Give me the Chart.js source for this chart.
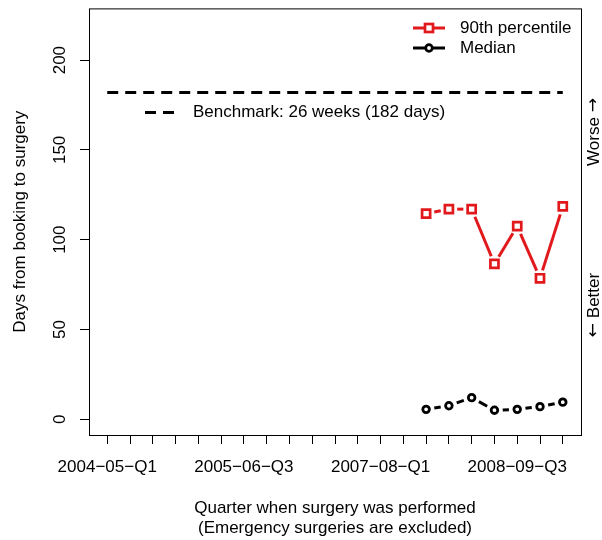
<!DOCTYPE html>
<html>
<head>
<meta charset="utf-8">
<script src="https://cdn.jsdelivr.net/npm/chart.js@4"></script>
<style>
html, body { margin: 0; padding: 0; background: #fff; }
canvas { display: block; }
</style>
</head>
<body>
<canvas id="chart" width="602" height="540"></canvas>
<script>
// ---- data ----
const QUARTERS = [
  '2004−05−Q1', '2004−05−Q2', '2004−05−Q3', '2004−05−Q4',
  '2005−06−Q1', '2005−06−Q2', '2005−06−Q3', '2005−06−Q4',
  '2006−07−Q1', '2006−07−Q2', '2006−07−Q3', '2006−07−Q4',
  '2007−08−Q1', '2007−08−Q2', '2007−08−Q3', '2007−08−Q4',
  '2008−09−Q1', '2008−09−Q2', '2008−09−Q3', '2008−09−Q4',
  '2009−10−Q1'
];
const REPORTED = ['2007−08−Q3', '2007−08−Q4', '2008−09−Q1', '2008−09−Q2', '2008−09−Q3', '2008−09−Q4', '2009−10−Q1'];
const P90 = [114.5, 117, 117, 86.5, 107.5, 78.5, 118.5];
const MEDIAN = [5.5, 7.5, 12, 5, 5.5, 7, 9.5];
const BENCHMARK_DAYS = 182;
const Y_TICKS = [0, 50, 100, 150, 200];
const LABEL_EVERY = 6;

const FONT = "'Liberation Sans', Arimo, Arial, sans-serif";
const ARROW_FONT = "'DejaVu Sans', sans-serif";
const RED = '#e2191c';

const toPoints = vals => REPORTED.map((q, i) => ({ x: QUARTERS.indexOf(q), y: vals[i] }));

// R type="b": line segments stop short of each marker
const gapLines = {
  id: 'gapLines',
  beforeDatasetsDraw(chart) {
    const ctx = chart.ctx;
    chart.data.datasets.forEach((ds, i) => {
      if (!ds.gap) return;
      const pts = chart.getDatasetMeta(i).data;
      ctx.save();
      ctx.strokeStyle = ds.borderColor;
      ctx.lineWidth = ds.segWidth;
      for (let k = 1; k < pts.length; k++) {
        const a = pts[k - 1], b = pts[k];
        const dx = b.x - a.x, dy = b.y - a.y, len = Math.hypot(dx, dy);
        if (len <= 2 * ds.gap) continue;
        const ux = dx / len, uy = dy / len;
        ctx.beginPath();
        ctx.moveTo(a.x + ux * ds.gap, a.y + uy * ds.gap);
        ctx.lineTo(b.x - ux * ds.gap, b.y - uy * ds.gap);
        ctx.stroke();
      }
      ctx.restore();
    });
  }
};

// rotated note made of word + arrow, centred at (x, y)
function sideNote(ctx, parts, x, y) {
  const fonts = parts.map(p => (p === '→' || p === '←' ? '17px ' + ARROW_FONT : '17px ' + FONT));
  const widths = parts.map((p, i) => { ctx.font = fonts[i]; return ctx.measureText(p).width; });
  const total = widths.reduce((s, w) => s + w, 0);
  ctx.save();
  ctx.translate(x, y);
  ctx.rotate(-Math.PI / 2);
  ctx.textAlign = 'left';
  let cx = -total / 2;
  parts.forEach((p, i) => {
    ctx.font = fonts[i];
    ctx.fillText(p, cx, 0);
    cx += widths[i];
  });
  ctx.restore();
}

// box, legend and side notes
const extras = {
  id: 'extras',
  afterDraw(chart) {
    const ctx = chart.ctx, a = chart.chartArea;
    ctx.save();
    ctx.strokeStyle = '#000';
    ctx.lineWidth = 1;
    ctx.strokeRect(a.left + 0.5, a.top + 0.5, a.right - a.left, a.bottom - a.top);

    ctx.font = '17px ' + FONT;
    ctx.fillStyle = '#000';
    ctx.textBaseline = 'middle';
    ctx.textAlign = 'left';

    // 90th percentile key
    ctx.strokeStyle = RED; ctx.lineWidth = 3;
    ctx.beginPath(); ctx.moveTo(413, 28); ctx.lineTo(445, 28); ctx.stroke();
    ctx.fillStyle = '#fff'; ctx.lineWidth = 2.7;
    ctx.fillRect(425, 24, 8, 8); ctx.strokeRect(425, 24, 8, 8);
    ctx.fillStyle = '#000';
    ctx.fillText('90th percentile', 460, 28);

    // median key
    ctx.strokeStyle = '#000'; ctx.lineWidth = 3;
    ctx.beginPath(); ctx.moveTo(413, 48); ctx.lineTo(445, 48); ctx.stroke();
    ctx.fillStyle = '#fff'; ctx.lineWidth = 2.8;
    ctx.beginPath(); ctx.arc(429, 48, 3.3, 0, Math.PI * 2); ctx.fill(); ctx.stroke();
    ctx.fillStyle = '#000';
    ctx.fillText('Median', 460, 48);

    // benchmark key
    ctx.lineWidth = 3; ctx.setLineDash([11, 7]);
    ctx.beginPath(); ctx.moveTo(145, 112.5); ctx.lineTo(180, 112.5); ctx.stroke();
    ctx.setLineDash([]);
    ctx.fillText('Benchmark: 26 weeks (182 days)', 193, 112);

    // direction notes on the right
    sideNote(ctx, ['Worse ', '→'], 594, 132);
    sideNote(ctx, ['←', ' Better'], 594, 305);
    ctx.restore();
  }
};

new Chart(document.getElementById('chart'), {
  type: 'line',
  data: {
    datasets: [
      {
        label: 'Benchmark',
        data: [{ x: 0, y: BENCHMARK_DAYS }, { x: QUARTERS.length - 1, y: BENCHMARK_DAYS }],
        borderColor: '#000', borderWidth: 3, borderDash: [11, 7], pointRadius: 0
      },
      {
        label: '90th percentile',
        data: toPoints(P90),
        showLine: false, gap: 8.3, segWidth: 3, borderColor: RED,
        pointStyle: 'rect', pointRadius: 5.7, pointBorderWidth: 2.7,
        pointBorderColor: RED, pointBackgroundColor: '#fff'
      },
      {
        label: 'Median',
        data: toPoints(MEDIAN),
        showLine: false, gap: 8.3, segWidth: 3, borderColor: '#000',
        pointStyle: 'circle', pointRadius: 3.3, pointBorderWidth: 2.8,
        pointBorderColor: '#000', pointBackgroundColor: '#fff'
      }
    ]
  },
  options: {
    responsive: false, animation: false, devicePixelRatio: 1,
    layout: { padding: { top: 6, right: 21, bottom: 0, left: 0 } },
    plugins: { legend: { display: false }, tooltip: { enabled: false } },
    scales: {
      x: {
        type: 'linear', min: -0.8, max: 20.8,
        afterBuildTicks: s => { s.ticks = QUARTERS.map((_, i) => ({ value: i })); },
        afterFit: s => { s.height = 105; s.paddingLeft = 0; s.paddingRight = 0; },
        ticks: {
          autoSkip: false, minRotation: 0, maxRotation: 0, padding: 13, color: '#000',
          font: { family: FONT, size: 17 },
          callback: (v, i) => (i % LABEL_EVERY === 0 ? QUARTERS[i] : '')
        },
        grid: { drawOnChartArea: false, tickLength: 9, tickColor: '#000', tickWidth: 1 },
        border: { display: false },
        title: {
          display: true, color: '#000',
          text: ['Quarter when surgery was performed', '(Emergency surgeries are excluded)'],
          font: { family: FONT, size: 17, lineHeight: 1.18 },
          padding: { top: 0, bottom: 2 }
        }
      },
      y: {
        min: -8.8, max: 228.8,
        afterBuildTicks: s => { s.ticks = Y_TICKS.map(v => ({ value: v })); },
        afterFit: s => { s.width = 89; s.paddingTop = 0; s.paddingBottom = 0; },
        ticks: {
          minRotation: 90, maxRotation: 90, crossAlign: 'center', padding: 6, color: '#000',
          font: { family: FONT, size: 17 }
        },
        grid: { drawOnChartArea: false, tickLength: 9, tickColor: '#000', tickWidth: 1 },
        border: { display: false },
        title: {
          display: true, color: '#000', text: 'Days from booking to surgery',
          font: { family: FONT, size: 17 },
          padding: { top: 10, bottom: 0 }
        }
      }
    }
  },
  plugins: [gapLines, extras]
});
</script>
</body>
</html>
